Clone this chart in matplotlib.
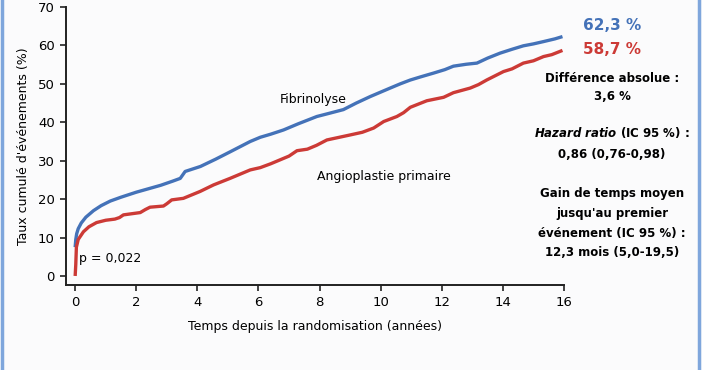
import numpy as np
import matplotlib
matplotlib.use('Agg')
import matplotlib.pyplot as plt

# cumulative event rate (%)
t_fib = [0, 0.02, 0.05, 0.1, 0.2, 0.35, 0.6, 0.85, 1.15, 1.5, 2.0, 2.4, 2.8, 3.2, 3.44, 3.52, 3.6, 4.1, 4.6,
         5.07, 5.73, 6.06, 6.4, 6.82, 7.3, 7.91, 8.3, 8.78, 9.2, 9.66, 10.31, 10.64, 10.97, 11.3, 11.73, 12.1,
         12.38, 12.8, 13.15, 13.5, 13.91, 14.3, 14.67, 15.0, 15.33, 15.7, 15.95]
fib = [7.5, 9.5, 11.0, 12.3, 13.8, 15.3, 17.0, 18.3, 19.5, 20.5, 21.8, 22.7, 23.6, 24.7, 25.4, 26.3, 27.2, 28.5, 30.4,
       32.3, 35.0, 36.1, 36.9, 38.0, 39.6, 41.5, 42.3, 43.3, 45.0, 46.7, 48.9, 50.0, 51.0, 51.8, 52.8, 53.7,
       54.6, 55.1, 55.4, 56.7, 58.0, 59.0, 59.9, 60.4, 61.0, 61.7, 62.3]

t_ang = [0, 0.02, 0.04, 0.1, 0.27, 0.45, 0.7, 1.0, 1.3, 1.45, 1.58, 2.13, 2.3, 2.45, 2.89, 3.0, 3.16, 3.54, 4.09,
         4.53, 5.07, 5.73, 6.06, 6.4, 6.82, 7.0, 7.26, 7.6, 7.9, 8.24, 9.0, 9.4, 9.77, 10.1, 10.53, 10.75, 10.97,
         11.51, 12.06, 12.38, 12.93, 13.2, 13.47, 14.02, 14.3, 14.67, 15.0, 15.33, 15.6, 15.95]
ang = [0, 3.0, 7.5, 9.5, 11.5, 12.8, 13.9, 14.5, 14.8, 15.2, 15.9, 16.5, 17.3, 17.9, 18.2, 18.8, 19.8, 20.2, 22.0,
       23.7, 25.4, 27.6, 28.2, 29.2, 30.6, 31.2, 32.6, 33.0, 34.0, 35.4, 36.7, 37.4, 38.5, 40.2, 41.5, 42.5, 43.9,
       45.6, 46.5, 47.7, 48.9, 49.8, 51.0, 53.2, 53.9, 55.4, 56.0, 57.1, 57.6, 58.7]

xticks = [0, 2, 4, 6, 8, 10, 12, 14, 16]
yticks = [0, 10, 20, 30, 40, 50, 60, 70]

blue = '#4472b8'
red = '#cc3a36'

plt.rcParams['font.family'] = 'DejaVu Sans'
plt.rcParams['mathtext.fontset'] = 'dejavusans'

fig = plt.figure(figsize=(7.02, 3.70), dpi=100)
fig.patch.set_facecolor('#fbfbfc')
ax = fig.add_axes([66/702, 85/370, 498/702, 278/370])
ax.set_facecolor('none')

ax.plot(t_fib, fib, color=blue, lw=2.4, solid_capstyle='butt')
ax.plot(t_ang, ang, color=red, lw=2.4, solid_capstyle='butt')

ax.set_xlim(-0.3, 16)
ax.set_ylim(-2.35, 70)
ax.set_xticks(xticks)
ax.set_yticks(yticks)
ax.tick_params(labelsize=9.5, length=4, width=1.2, color='#222222', pad=4)
for s in ['top', 'right']:
    ax.spines[s].set_visible(False)
for s in ['left', 'bottom']:
    ax.spines[s].set_linewidth(1.4)
    ax.spines[s].set_color('#222222')

ax.set_xlabel('Temps depuis la randomisation (années)', fontsize=9, labelpad=8)
ax.set_ylabel("Taux cumulé d'événements (%)", fontsize=9, labelpad=6)

ax.text(6.7, 46.0, 'Fibrinolyse', fontsize=9, va='center')
ax.text(7.9, 26.0, 'Angioplastie primaire', fontsize=9, va='center')
ax.text(0.12, 4.5, 'p = 0,022', fontsize=9, va='center')

# right-hand annotations
xc = 612 / 702
fig.text(xc, 1 - 26/370, '62,3 %', color=blue, fontsize=11, fontweight='bold', ha='center', va='center')
fig.text(xc, 1 - 50/370, '58,7 %', color=red, fontsize=11, fontweight='bold', ha='center', va='center')
fig.text(xc, 1 - 78/370, 'Différence absolue :', fontsize=8.5, fontweight='bold', ha='center', va='center')
fig.text(xc, 1 - 97/370, '3,6 %', fontsize=8.5, fontweight='bold', ha='center', va='center')
fig.text(xc, 1 - 132/370, r'$\mathbfit{Hazard\ ratio}$' + ' (IC 95 %) :', fontsize=8.5, fontweight='bold',
         ha='center', va='center')
fig.text(xc, 1 - 155/370, '0,86 (0,76-0,98)', fontsize=8.5, fontweight='bold', ha='center', va='center')
fig.text(xc, 1 - 193/370, 'Gain de temps moyen', fontsize=8.5, fontweight='bold', ha='center', va='center')
fig.text(xc, 1 - 213/370, "jusqu'au premier", fontsize=8.5, fontweight='bold', ha='center', va='center')
fig.text(xc, 1 - 233/370, 'événement (IC 95 %) :', fontsize=8.5, fontweight='bold', ha='center', va='center')
fig.text(xc, 1 - 252/370, '12,3 mois (5,0-19,5)', fontsize=8.5, fontweight='bold', ha='center', va='center')

# light blue frame edges
fig.add_artist(plt.Line2D([1.5/702, 1.5/702], [0, 1], color='#7fa6dc', lw=2.5))
fig.add_artist(plt.Line2D([698.5/702, 698.5/702], [0, 1], color='#7fa6dc', lw=2.5))

fig.savefig('out.png', dpi=100, facecolor=fig.get_facecolor())
